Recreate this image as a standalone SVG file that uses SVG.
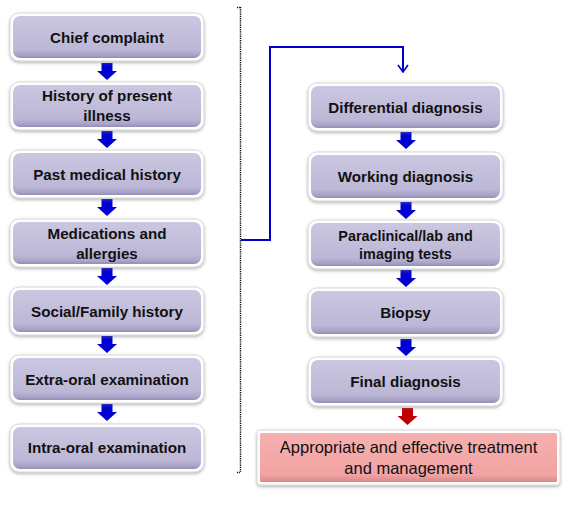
<svg xmlns="http://www.w3.org/2000/svg" width="571" height="510" viewBox="0 0 571 510">
<defs>
  <linearGradient id="lav" x1="0" y1="0" x2="0" y2="1">
    <stop offset="0" stop-color="#cbc7e1"/>
    <stop offset="0.8" stop-color="#bcb7d6"/>
    <stop offset="0.92" stop-color="#aaa5c9"/>
    <stop offset="1" stop-color="#948eb6"/>
  </linearGradient>
  <linearGradient id="pink" x1="0" y1="0" x2="0" y2="1">
    <stop offset="0" stop-color="#f6b0b0"/>
    <stop offset="0.85" stop-color="#f2a3a3"/>
    <stop offset="1" stop-color="#d98787"/>
  </linearGradient>
  <filter id="sh" x="-10%" y="-20%" width="120%" height="150%">
    <feDropShadow dx="0" dy="1.5" stdDeviation="1.6" flood-color="#7a7a7a" flood-opacity="0.55"/>
  </filter>
  <marker id="chev" viewBox="0 0 10 12" refX="9" refY="6" markerWidth="10" markerHeight="12" markerUnits="userSpaceOnUse" orient="auto">
    <path d="M2,1 L9,6 L2,11" fill="none" stroke="#0000cc" stroke-width="1.6"/>
  </marker>
</defs>
<style>
  .outer{fill:#ffffff;stroke:#d9d9d9;stroke-width:1;filter:url(#sh)}
  .inner{fill:url(#lav)}
  .pinner{fill:url(#pink)}
  .lbl{font-family:"Liberation Sans",Arial,sans-serif;font-weight:bold;font-size:15.2px;fill:#111111;text-anchor:middle}
  .sm{font-size:14.4px}
  .plbl{font-family:"Liberation Sans",Arial,sans-serif;font-size:16.5px;fill:#111111;text-anchor:middle}
  .barr{fill:#0000d4}
  .rarr{fill:#c00000}
  .conn{fill:none;stroke:#0000cc;stroke-width:2}
  .dot{fill:none;stroke:#000000;stroke-width:1.5;stroke-dasharray:1.2 1}
</style>

<!-- divider -->
<path class="dot" d="M240.5,7 V472 M237,7.5 H240 M237,472.5 H240"/>

<!-- connectors -->
<g id="connectors">
  <path class="conn" d="M241,240 H270 V47 H403 V72" marker-end="url(#chev)"/>
  <g id="left-arrows">
    <path class="barr" d="M101.5,63 H112.5 V71 H117 L107,80 L97,71 H101.5 Z"/>
    <path class="barr" d="M101.5,131 H112.5 V139 H117 L107,148 L97,139 H101.5 Z"/>
    <path class="barr" d="M101.5,199 H112.5 V207 H117 L107,216 L97,207 H101.5 Z"/>
    <path class="barr" d="M101.5,268 H112.5 V276 H117 L107,285 L97,276 H101.5 Z"/>
    <path class="barr" d="M101.5,336 H112.5 V344 H117 L107,353 L97,344 H101.5 Z"/>
    <path class="barr" d="M101.5,404 H112.5 V412 H117 L107,421 L97,412 H101.5 Z"/>
  </g>
  <g id="right-arrows">
    <path class="barr" d="M400.5,132 H411.5 V140 H416 L406,149 L396,140 H400.5 Z"/>
    <path class="barr" d="M400.5,202 H411.5 V210 H416 L406,219 L396,210 H400.5 Z"/>
    <path class="barr" d="M400.5,270 H411.5 V278 H416 L406,287 L396,278 H400.5 Z"/>
    <path class="barr" d="M400.5,339 H411.5 V347 H416 L406,356 L396,347 H400.5 Z"/>
    <path class="rarr" d="M402,408 H413 V416 H417.5 L407.5,425 L397.5,416 H402 Z"/>
  </g>
</g>

<!-- left column -->
<g id="n-chief">
  <rect class="outer" x="10" y="13" width="194" height="48" rx="9"/>
  <rect class="inner" x="13" y="16" width="188" height="42" rx="7"/>
  <text class="lbl" x="107" y="42.5">Chief complaint</text>
</g>
<g id="n-hpi">
  <rect class="outer" x="10" y="82" width="194" height="48" rx="9"/>
  <rect class="inner" x="13" y="85" width="188" height="42" rx="7"/>
  <text class="lbl" x="107" y="100.5">History of present</text>
  <text class="lbl" x="107" y="121">illness</text>
</g>
<g id="n-pmh">
  <rect class="outer" x="10" y="150" width="194" height="48" rx="9"/>
  <rect class="inner" x="13" y="153" width="188" height="42" rx="7"/>
  <text class="lbl" x="107" y="179.5">Past medical history</text>
</g>
<g id="n-meds">
  <rect class="outer" x="10" y="219" width="194" height="48" rx="9"/>
  <rect class="inner" x="13" y="222" width="188" height="42" rx="7"/>
  <text class="lbl" x="107" y="238.5">Medications and</text>
  <text class="lbl" x="107" y="259">allergies</text>
</g>
<g id="n-social">
  <rect class="outer" x="10" y="287" width="194" height="48" rx="9"/>
  <rect class="inner" x="13" y="290" width="188" height="42" rx="7"/>
  <text class="lbl" x="107" y="316.5">Social/Family history</text>
</g>
<g id="n-extra">
  <rect class="outer" x="10" y="355" width="194" height="48" rx="9"/>
  <rect class="inner" x="13" y="358" width="188" height="42" rx="7"/>
  <text class="lbl" x="107" y="384.5">Extra-oral examination</text>
</g>
<g id="n-intra">
  <rect class="outer" x="10" y="424" width="194" height="48" rx="9"/>
  <rect class="inner" x="13" y="427" width="188" height="42" rx="7"/>
  <text class="lbl" x="107" y="453">Intra-oral examination</text>
</g>

<!-- right column -->
<g id="n-diff">
  <rect class="outer" x="308" y="83" width="195" height="48" rx="9"/>
  <rect class="inner" x="311" y="86" width="189" height="42" rx="7"/>
  <text class="lbl" x="405.5" y="112.5">Differential diagnosis</text>
</g>
<g id="n-working">
  <rect class="outer" x="308" y="152" width="195" height="49" rx="9"/>
  <rect class="inner" x="311" y="155" width="189" height="43" rx="7"/>
  <text class="lbl" x="405.5" y="182">Working diagnosis</text>
</g>
<g id="n-para">
  <rect class="outer" x="308" y="220" width="195" height="49" rx="9"/>
  <rect class="inner" x="311" y="223" width="189" height="43" rx="7"/>
  <text class="lbl sm" x="405.5" y="240.5">Paraclinical/lab and</text>
  <text class="lbl sm" x="405.5" y="258.5">imaging tests</text>
</g>
<g id="n-biopsy">
  <rect class="outer" x="308" y="288" width="195" height="49" rx="9"/>
  <rect class="inner" x="311" y="291" width="189" height="43" rx="7"/>
  <text class="lbl" x="405.5" y="318">Biopsy</text>
</g>
<g id="n-final">
  <rect class="outer" x="308" y="357" width="195" height="49" rx="9"/>
  <rect class="inner" x="311" y="360" width="189" height="43" rx="7"/>
  <text class="lbl" x="405.5" y="387">Final diagnosis</text>
</g>
<g id="n-treatment">
  <rect class="outer" x="257" y="430" width="303" height="55" rx="3"/>
  <rect class="pinner" x="260" y="433" width="297" height="49" rx="1.5"/>
  <text class="plbl" x="408.5" y="453">Appropriate and effective treatment</text>
  <text class="plbl" x="408.5" y="474">and management</text>
</g>
</svg>
